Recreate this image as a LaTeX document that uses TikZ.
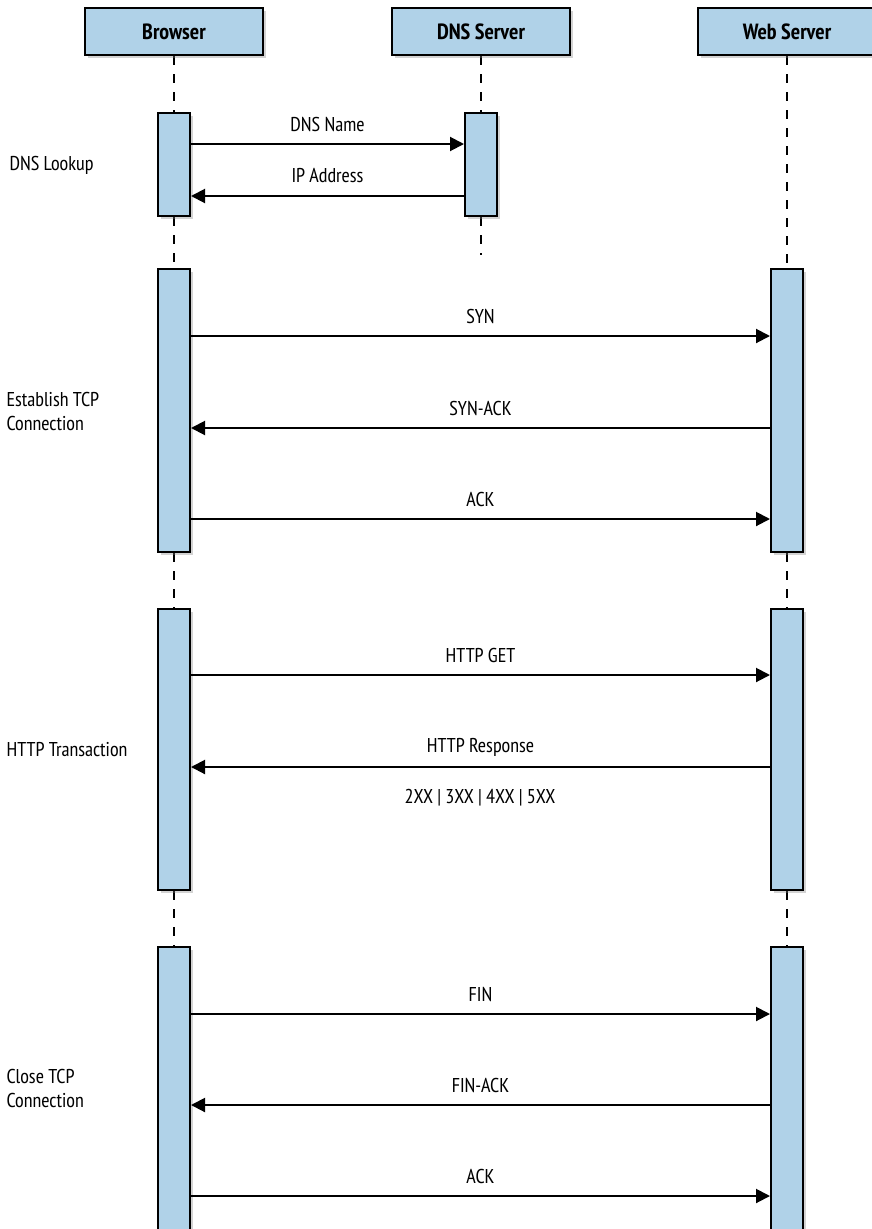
\documentclass[tikz,border=0pt]{standalone}
\usepackage{fontspec}
\setmainfont{PT Sans Narrow}
\usetikzlibrary{arrows.meta,positioning,shadows,backgrounds}
\definecolor{boxblue}{RGB}{176,210,232}

\begin{document}
\begin{tikzpicture}[x=1pt, y=-1pt,
    actor/.style={draw, line width=2pt, fill=boxblue,
                  minimum width=178pt, minimum height=47pt,
                  font=\fontsize{22}{24}\selectfont\bfseries,
                  drop shadow={shadow xshift=3pt, shadow yshift=-3pt, opacity=0.35}},
    act/.style={draw, line width=2pt, fill=boxblue, minimum width=32pt,
                drop shadow={shadow xshift=3pt, shadow yshift=-3pt, opacity=0.35}},
    life/.style={line width=2pt, dash pattern=on 9pt off 9pt},
    msg/.style={line width=2pt, -{Triangle[length=14pt,width=14pt]}},
    lbl/.style={font=\fontsize{20}{22}\selectfont},
    phase/.style={anchor=west, align=left, font=\fontsize{20}{24}\selectfont},
  ]
  \useasboundingbox (0,0) rectangle (871,1229);

  % participants
  \node[actor] (browser) at (174,31.5) {Browser};
  \node[actor] (dns) at (481,31.5) {DNS Server};
  \node[actor] (web) at (787,31.5) {Web Server};

  % activations
  \node[act, minimum height=103pt] (b1) at (174,164.5) {};
  \node[act, minimum height=103pt] (d1) at (481,164.5) {};
  \node[act, minimum height=283pt] (b2) at (174,410.5) {};
  \node[act, minimum height=283pt] (w2) at (787,410.5) {};
  \node[act, minimum height=281pt] (b3) at (174,749.5) {};
  \node[act, minimum height=281pt] (w3) at (787,749.5) {};
  \node[act, minimum height=300pt] (b4) at (174,1097) {};
  \node[act, minimum height=300pt] (w4) at (787,1097) {};
  \coordinate (dnsend) at (481,255);

  % lifelines
  \begin{scope}[on background layer]
    \draw[life] (browser.south) -- (b1.north);
    \draw[life] (b1.south) -- (b2.north);
    \draw[life] (b2.south) -- (b3.north);
    \draw[life] (b3.south) -- (b4.north);
    \draw[life] (dns.south) -- (d1.north);
    \draw[life] (d1.south) -- (dnsend);
    \draw[life] (web.south) -- (w2.north);
    \draw[life] (w2.south) -- (w3.north);
    \draw[life] (w3.south) -- (w4.north);
  \end{scope}

  % messages
  \foreach \from/\to/\y/\txt in {b1.east/d1.west/144/DNS Name,
      d1.west/b1.east/196/IP Address,
      b2.east/w2.west/336/SYN, w2.west/b2.east/428/SYN-ACK,
      b2.east/w2.west/519/ACK,
      b3.east/w3.west/675/HTTP GET, w3.west/b3.east/767/HTTP Response,
      b4.east/w4.west/1014/FIN, w4.west/b4.east/1105/FIN-ACK,
      b4.east/w4.west/1196/ACK} {
    \draw[msg] (\from |- 0,\y) -- (\to |- 0,\y)
      node[lbl, midway, yshift=20pt] {\txt};
  }
  \node[lbl] (codes) at (480,798) {2XX | 3XX | 4XX | 5XX};

  % phases
  \node[phase] (lookup) at (6,165) {DNS Lookup};
  \node[phase] (open) at (3,411) {Establish TCP\\Connection};
  \node[phase] (trans) at (3,750) {HTTP Transaction};
  \node[phase] (close) at (3,1088) {Close TCP\\Connection};
\end{tikzpicture}
\end{document}
